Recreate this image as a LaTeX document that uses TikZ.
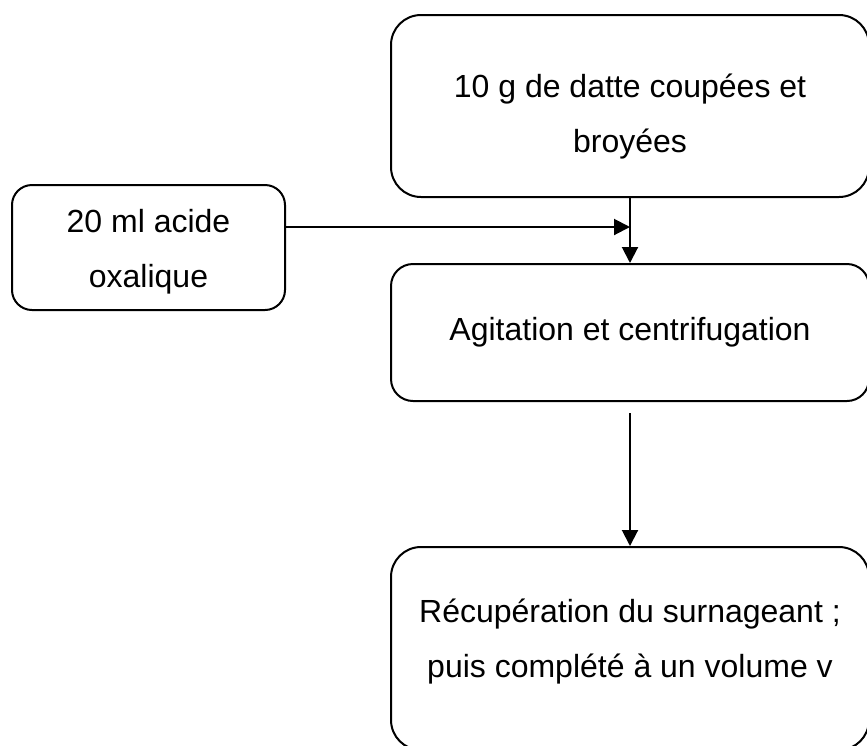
\documentclass[tikz,border=0pt]{standalone}
\usepackage{fontspec}
\setmainfont{Liberation Sans}
\usetikzlibrary{arrows.meta, positioning}

\begin{document}
\begin{tikzpicture}[
    x=0.5pt, y=-0.5pt,
    >={Triangle[length=8pt, width=8pt]},
    box/.style={draw, rounded corners=11pt, line width=1pt, align=center, inner sep=0pt, font=\fontsize{16}{27.5}\selectfont},
    link/.style={->, line width=1pt},
]
    \useasboundingbox (0,0) rectangle (867,745);

    % Main column
    \node[box, rounded corners=15pt, minimum width=239pt, minimum height=91pt] (dates) at (630,106) {\rule{0pt}{22pt}10 g de datte coupées et\\broyées};
    \node[box, minimum width=239pt, minimum height=68.5pt] (stir) at (630,332.5) {Agitation et centrifugation};
    \node[box, rounded corners=15pt, minimum width=239pt, minimum height=101.5pt] (rest) at (630,648.5) {Récupération du surnageant ;\\puis complété à un volume v\rule[-10.5pt]{0pt}{10.5pt}};

    % Added acid
    \node[box, rounded corners=10pt, minimum width=136.5pt, minimum height=62.5pt] (acid) at (148.5,247.5) {\rule{0pt}{16pt}20 ml acide\\oxalique};

    \coordinate (join) at (630,227);
    \draw[link] (dates.south) -- (stir.north);
    \draw[link] (acid.east |- join) -- (join);
    \draw[link, shorten <=5.5pt] (stir.south) -- (rest.north);
\end{tikzpicture}
\end{document}
